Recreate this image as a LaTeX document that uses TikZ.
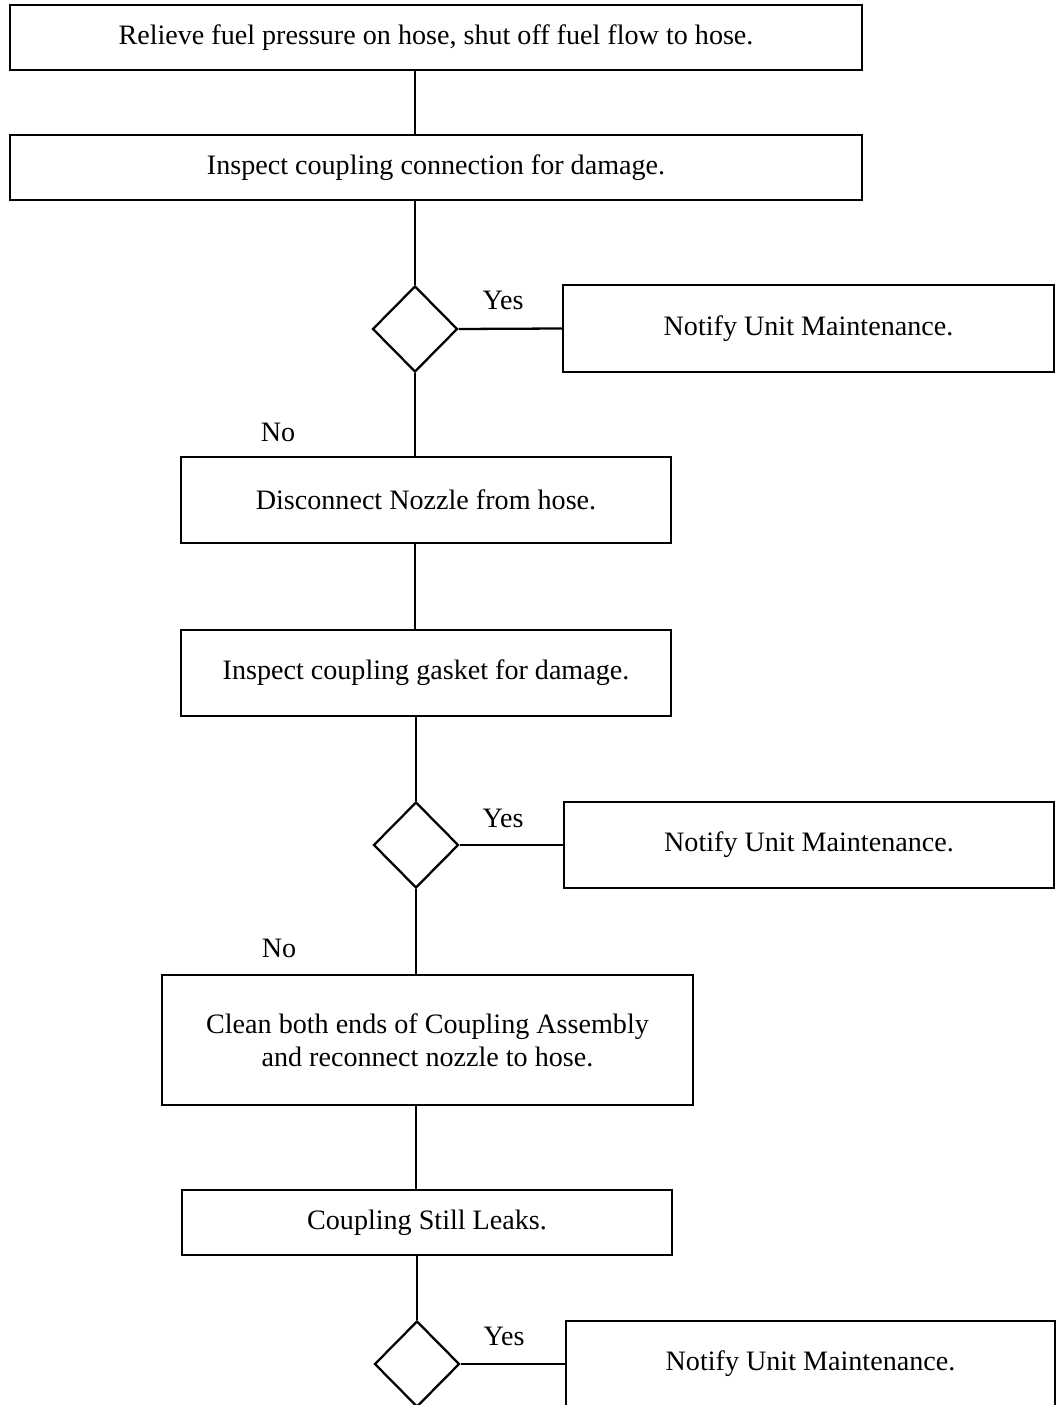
\documentclass[tikz,border=0pt]{standalone}
\usepackage{fontspec}
\setmainfont{Liberation Serif}
\usetikzlibrary{shapes.geometric}

\begin{document}
\begin{tikzpicture}[x=0.02cm,y=-0.02cm,line width=1.3pt,
    every node/.style={font=\fontsize{16pt}{18.7pt}\selectfont},
    box/.style 2 args={draw,rectangle,inner sep=0pt,align=center,
      minimum width=#1*0.02cm,minimum height=#2*0.02cm},
    test/.style={draw,diamond,inner sep=0pt,
      minimum width=85*0.02cm,minimum height=86*0.02cm}]
  \useasboundingbox (0,0) rectangle (1056,1405);
  \clip (0,0) rectangle (1056,1405);
  % main column
  \node[box={852}{65}] (R) at (436,37.5) {Relieve fuel pressure on hose, shut off fuel flow to hose.};
  \node[box={852}{65}] (I) at (436,167.5) {Inspect coupling connection for damage.};
  \node[test] (T1) at (415,329) {};
  \node[box={490}{86}] (D) at (426,500) {Disconnect Nozzle from hose.};
  \node[box={490}{86}] (G) at (426,673) {Inspect coupling gasket for damage.};
  \node[test] (T2) at (416,845) {};
  \node[box={531}{130}] (C) at (427.5,1040) {Clean both ends of Coupling Assembly\\and reconnect nozzle to hose.};
  \node[box={490}{65}] (L) at (427,1222.5) {Coupling Still Leaks.};
  \node[test] (T3) at (417,1364) {};
  % side boxes
  \node[box={491}{87}] (N1) at (808.5,328.5) {Notify Unit Maintenance.};
  \node[box={490}{86}] (N2) at (809,845) {Notify Unit Maintenance.};
  \node[box={489}{86}] (N3) at (810.5,1364) {Notify Unit Maintenance.};
  % labels
  \node (Y1) at (503,300) {Yes};
  \node (Y2) at (503,818) {Yes};
  \node (Y3) at (504,1336) {Yes};
  \node (X1) at (278,432) {No};
  \node (X2) at (279,948) {No};
  % connectors
  \draw (T1 |- R.south) -- (T1 |- I.north);
  \draw (T1 |- I.south) -- (T1.north);
  \draw (T1.east) -- (N1.west);
  \draw (T1.south) -- (T1 |- D.north);
  \draw (T1 |- D.south) -- (T1 |- G.north);
  \draw (T2 |- G.south) -- (T2.north);
  \draw (T2.east) -- (N2.west);
  \draw (T2.south) -- (T2 |- C.north);
  \draw (T2 |- C.south) -- (T2 |- L.north);
  \draw (T3 |- L.south) -- (T3.north);
  \draw (T3.east) -- (N3.west);
\end{tikzpicture}
\end{document}
